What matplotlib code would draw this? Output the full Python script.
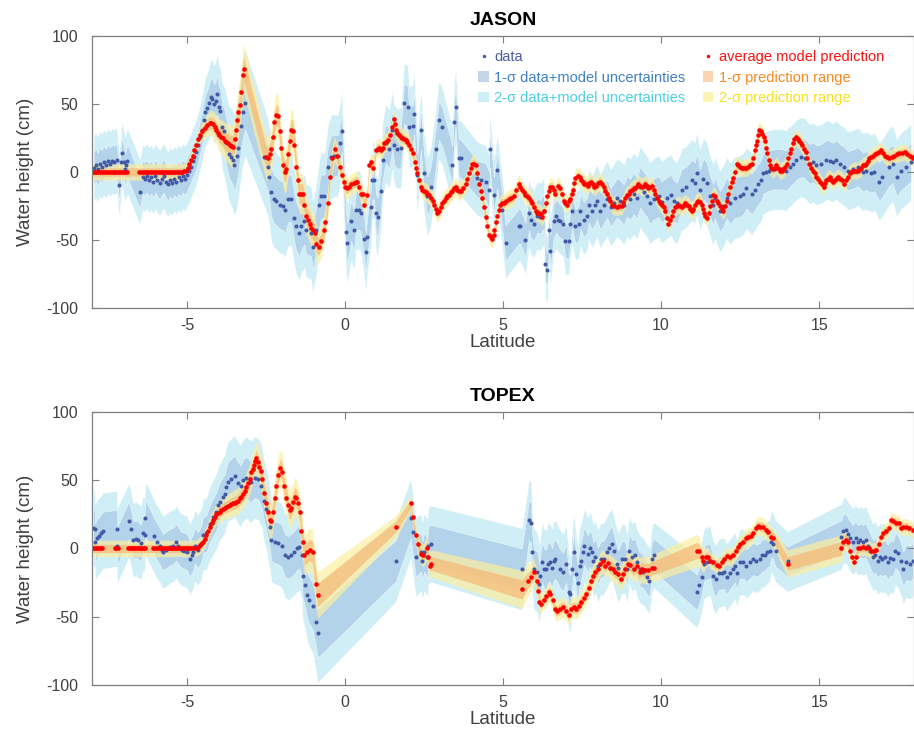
import numpy as np
import matplotlib
matplotlib.use("Agg")
import matplotlib.pyplot as plt
from matplotlib.lines import Line2D
from matplotlib.patches import Patch

plt.rcParams['font.family'] = ['Liberation Sans', 'DejaVu Sans']
plt.rcParams['axes.unicode_minus'] = False

# ---------------- JASON (top panel) ----------------
jason_data_lat = [-7.95, -7.88, -7.82, -7.76, -7.7, -7.63, -7.56, -7.5, -7.43, -7.36, -7.3, -7.22, -7.14, -7.08,
                  -7.05, -7.0, -6.95, -6.92, -6.88, -6.49, -6.4, -6.33, -6.27, -6.2, -6.13, -6.06, -6.0, -5.93,
                  -5.86, -5.8, -5.73, -5.66, -5.6, -5.53, -5.46, -5.4, -5.33, -5.26, -5.2, -5.13, -5.06, -5.0,
                  -4.94, -4.88, -4.82, -4.76, -4.7, -4.64, -4.58, -4.53, -4.47, -4.42, -4.36, -4.3, -4.25, -4.2,
                  -4.14, -4.08, -4.04, -3.99, -3.94, -3.88, -3.82, -3.74, -3.66, -3.6, -3.55, -3.5, -3.42, -3.38,
                  -3.3, -3.24, -3.16, -2.55, -2.44, -2.39, -2.33, -2.25, -2.18, -2.07, -1.96, -1.91, -1.8, -1.7,
                  -1.6, -1.54, -1.44, -1.39, -1.28, -1.23, -1.07, -1.02, -0.91, -0.81, -0.76, -0.65, -0.53, -0.44,
                  -0.36, -0.23, -0.15, -0.1, 0.03, 0.08, 0.19, 0.29, 0.35, 0.45, 0.5, 0.61, 0.66, 0.7, 0.82, 0.87,
                  0.92, 0.98, 1.03, 1.14, 1.19, 1.29, 1.4, 1.5, 1.56, 1.66, 1.77, 1.87, 1.98, 2.03, 2.14, 2.19,
                  2.29, 2.4, 2.5, 2.61, 2.71, 2.87, 2.97, 3.08, 3.4, 3.45, 3.5, 3.6, 3.66, 4.18, 4.29, 4.45, 4.55,
                  4.58, 4.71, 4.82, 4.97, 5.08, 5.5, 5.55, 5.71, 5.82, 5.87, 5.97, 6.08, 6.18, 6.29, 6.34, 6.4,
                  6.45, 6.5, 6.6, 6.69, 6.75, 6.8, 6.9, 6.97, 7.08, 7.13, 7.18, 7.29, 7.39, 7.45, 7.55, 7.66, 7.71,
                  7.82, 7.92, 7.97, 8.08, 8.18, 8.29, 8.4, 8.5, 8.6, 8.71, 8.82, 8.92, 9.02, 9.13, 9.24, 9.34,
                  9.45, 9.55, 9.65, 9.76, 9.92, 10.02, 10.18, 10.3, 10.4, 10.5, 10.65, 10.8, 10.97, 11.07, 11.13,
                  11.23, 11.34, 11.44, 11.55, 11.65, 11.7, 11.86, 11.97, 12.07, 12.18, 12.33, 12.49, 12.6, 12.7,
                  12.86, 12.97, 13.07, 13.17, 13.23, 13.33, 13.4, 13.6, 13.8, 13.95, 14.07, 14.17, 14.28, 14.44,
                  14.54, 14.7, 14.8, 14.91, 15.07, 15.23, 15.33, 15.44, 15.54, 15.65, 15.8, 15.9, 16.07, 16.22,
                  16.38, 16.49, 16.64, 16.75, 16.9, 17.0, 17.22, 17.33, 17.45, 17.6, 17.75, 17.9]
jason_data_h = [3, 5, 2, 6, 4, 7, 5, 8, 6, 8, 7, 9, -9.5, 7,
                13.7, 7, 2, 5, 8, -14.5, -4, -5, -3, -6, -4, -7, -3, -6,
                -8, -5, -3, -7, -9, -6, -8, -5, -7, -4, -6, -3, -5, -2,
                1, 4, 8, 11, 15, 20, 26, 31, 38, 44, 47, 51, 55, 54,
                50, 52, 57, 48, 45, 33, 30, 21, 13, 11, 9, 5, 12, 18,
                34, 44, 51, 11, 4, -3.4, -15, -20, -21, -24, -25, -28, -19.5, -19.5,
                -34, -40, -45, -40, -36, -43, -45, -55, -43, -24, -18, -18, 4, 11,
                12, 12, 21, 30, -44, -52, -36, -43, -28, -28, -30, -49, -59, -48, -26, -6,
                -6, -30.5, -33, -14, 9, 21, 17, 31, 20, 17, 18, 50.5, 48, 33, 34, 43,
                -2, 31, -1, -18, -11, 17, 38, 33, 5, 37, 48, 10, 10, -4.7, -6, -7, -13,
                17, -17, 1.4, -28, -52, -40, -40, -50, -30, -35, -38, -32, -33, -29, -68, -72,
                -43, -58, -36, -32, -35, -36, -38, -51, -51, -38, -29, -40, -38, -29, -35, -32, -24,
                -29, -24, -21, -29, -24, -19.5, -26, -23, -19, -21, -24, -18, -20, -16, -19, -11,
                -15, -18, -23, -20, -18, -22, -19, -17, -21, -23, -13, -11, -6, -8, -1,
                -13, -5, -8, -18, -24, -19, -29, -25, -19, -23, -19, -18, -16, -12,
                -16, -13, -9, -6, -1, 0, 1, 2, 2, 1, 4, 6, 9, 11,
                10, 6, 7, 5, 6, 9, 8, 7, 9, 6, 4, 1, 2, 4,
                0, 1, -1, 0, -7, -4, 4, 6, -4, 1, 4, 7]

jason_model_lat = [-7.98, -7.92, -7.86, -7.8, -7.74, -7.68, -7.62, -7.56, -7.5, -7.44, -7.38, -7.32, -7.26, -7.2,
                   -7.14, -7.08, -7.02, -6.96, -6.9, -6.52, -6.46, -6.4, -6.34, -6.28, -6.22, -6.16, -6.1, -6.04,
                   -5.98, -5.92, -5.86, -5.8, -5.74, -5.68, -5.62, -5.56, -5.5, -5.44, -5.38, -5.32, -5.26, -5.2,
                   -5.14, -5.08, -5.02, -4.97, -4.92, -4.87, -4.81, -4.76, -4.7, -4.65, -4.6, -4.52, -4.44, -4.36,
                   -4.28, -4.23, -4.18, -4.12, -4.07, -4.02, -3.97, -3.92, -3.86, -3.81, -3.76, -3.7, -3.65, -3.6,
                   -3.55, -3.49, -3.45, -3.41, -3.37, -3.33, -3.28, -3.23, -3.2, -2.5, -2.44, -2.38, -2.33, -2.28,
                   -2.23, -2.17, -2.12, -2.07, -2.02, -1.96, -1.91, -1.86, -1.8, -1.75, -1.7, -1.65, -1.6, -1.54,
                   -1.49, -1.44, -1.38, -1.33, -1.28, -1.23, -1.17, -1.12, -1.07, -1.02, -0.96, -0.9, -0.83, -0.75,
                   -0.67, -0.62, -0.54, -0.48, -0.4, -0.33, -0.25, -0.17, -0.09, -0.04, 0.01, 0.06, 0.12, 0.2,
                   0.28, 0.34, 0.39, 0.45, 0.5, 0.56, 0.61, 0.7, 0.77, 0.82, 0.9, 0.98, 1.03, 1.08, 1.14, 1.19,
                   1.24, 1.3, 1.35, 1.43, 1.5, 1.54, 1.58, 1.61, 1.66, 1.71, 1.76, 1.82, 1.87, 1.92, 1.97, 2.03,
                   2.09, 2.14, 2.21, 2.25, 2.29, 2.35, 2.4, 2.45, 2.5, 2.55, 2.61, 2.66, 2.71, 2.77, 2.82, 2.87,
                   2.92, 2.97, 3.03, 3.08, 3.13, 3.19, 3.24, 3.29, 3.35, 3.4, 3.45, 3.5, 3.56, 3.61, 3.66, 3.72,
                   3.82, 3.87, 3.92, 3.98, 4.03, 4.08, 4.13, 4.19, 4.24, 4.29, 4.34, 4.4, 4.45, 4.5, 4.55, 4.61,
                   4.66, 4.7, 4.73, 4.78, 4.82, 4.86, 4.9, 4.97, 5.03, 5.1, 5.18, 5.26, 5.34, 5.42, 5.5, 5.55,
                   5.6, 5.66, 5.71, 5.76, 5.82, 5.87, 5.92, 5.97, 6.03, 6.08, 6.13, 6.19, 6.24, 6.31, 6.36, 6.4,
                   6.44, 6.48, 6.55, 6.6, 6.66, 6.73, 6.8, 6.86, 6.92, 6.97, 7.02, 7.08, 7.13, 7.18, 7.21, 7.26,
                   7.29, 7.36, 7.42, 7.47, 7.52, 7.57, 7.63, 7.68, 7.73, 7.78, 7.84, 7.89, 7.94, 8.0, 8.08, 8.13,
                   8.18, 8.24, 8.29, 8.34, 8.39, 8.45, 8.52, 8.6, 8.68, 8.76, 8.81, 8.86, 8.92, 8.97, 9.03, 9.08,
                   9.13, 9.18, 9.23, 9.28, 9.34, 9.39, 9.45, 9.5, 9.55, 9.6, 9.66, 9.71, 9.76, 9.81, 9.87, 9.92,
                   9.97, 10.02, 10.08, 10.13, 10.18, 10.23, 10.28, 10.34, 10.39, 10.44, 10.5, 10.55, 10.6, 10.65,
                   10.71, 10.76, 10.81, 10.87, 10.92, 10.97, 11.02, 11.07, 11.13, 11.18, 11.23, 11.28, 11.32,
                   11.36, 11.4, 11.44, 11.5, 11.55, 11.6, 11.65, 11.7, 11.76, 11.81, 11.86, 11.92, 11.97, 12.02,
                   12.07, 12.12, 12.18, 12.23, 12.28, 12.34, 12.39, 12.44, 12.49, 12.55, 12.6, 12.65, 12.7, 12.75,
                   12.81, 12.86, 12.92, 12.97, 13.01, 13.04, 13.07, 13.1, 13.15, 13.2, 13.24, 13.28, 13.32, 13.35,
                   13.4, 13.44, 13.49, 13.54, 13.6, 13.65, 13.7, 13.76, 13.81, 13.87, 13.93, 13.99, 14.03, 14.07,
                   14.12, 14.17, 14.22, 14.26, 14.32, 14.37, 14.42, 14.47, 14.53, 14.58, 14.63, 14.68, 14.74,
                   14.81, 14.86, 14.91, 14.96, 15.02, 15.08, 15.15, 15.19, 15.23, 15.28, 15.33, 15.39, 15.44,
                   15.5, 15.56, 15.61, 15.66, 15.72, 15.8, 15.85, 15.9, 15.96, 16.01, 16.06, 16.12, 16.17, 16.22,
                   16.28, 16.33, 16.38, 16.44, 16.49, 16.54, 16.59, 16.65, 16.7, 16.76, 16.82, 16.89, 16.96,
                   17.01, 17.07, 17.14, 17.22, 17.3, 17.38, 17.46, 17.54, 17.62, 17.7, 17.78, 17.86, 17.93, 17.98]
jason_model_h = [0, 0, 0, 0, 0, 0, 0, 0, 0, 0, 0, 0, 0, 0,
                 0, 0, 0, 0, 0, 0, 0, 0, 0, 0, 0, 0, 0, 0,
                 0, 0, 0, 0, 0, 0, 0, 0, 0, 0, 0, 0, 0, 0,
                 0.2, 0.5, 1, 3, 6, 9, 12, 16, 20, 24, 27, 30, 32, 34.5,
                 36, 36, 35, 33, 31, 29, 27, 26, 25, 23, 22, 21, 20, 19,
                 18.5, 24, 31, 38, 44, 49, 59, 71, 76, 11, 10, 13, 17, 26,
                 37, 42, 41, 30, 18, 5, 0, 2, 13, 23, 31, 30, 20, 4,
                 -6, -16, -16, -16, -24, -32, -35, -38, -41, -43, -45, -53, -55, -51,
                 -43, -37, -23, -4, 10, 17, 12, 4, -2, -7, -11, -12, -11, -9,
                 -8, -7, -7, -11, -16, -16, -24, -17, 5, 7, 3, 16, 17, 18, 16, 18,
                 21, 22, 23.5, 27, 33, 39, 35, 31, 29, 27, 26, 25, 24, 23.5, 22, 20,
                 17, 14, 7.5, 3, -1, -6, -11, -13, -14, -15, -16, -17, -19, -21, -24, -27,
                 -30, -29, -26, -23, -21, -19, -18, -17, -15, -14, -12, -11, -13, -14, -14, -12,
                 -8.5, -5, -1, 3, 6, 6, 5, -1, -8.5, -14, -19, -26, -33, -40, -46, -48,
                 -49, -46, -43, -37, -32, -28, -24, -23, -23, -21, -20, -19, -18, -13, -8.5, -11,
                 -13, -15, -17, -18, -19, -21, -23, -26, -29, -30, -30, -31, -33, -29, -23, -18,
                 -14, -11, -11, -13, -16, -10, -12, -16, -21, -23, -24, -21, -20, -16, -13, -8,
                 -4.5, -3, -4, -6, -7, -8.5, -9, -10, -8, -7, -9, -11, -10, -8, -7, -9,
                 -11, -14, -16, -19, -21, -24, -25, -25.5, -25, -25, -22, -19, -17, -16, -14, -13,
                 -12, -12, -10, -8.5, -10, -11, -10, -8.5, -10, -12, -11, -10, -13, -16, -19, -21,
                 -23, -24, -26, -29, -34, -38, -35, -32, -29, -26, -25, -24, -25, -26,
                 -24, -23, -24, -25, -27, -29, -27, -24, -22, -21, -22, -24, -27,
                 -30, -32, -34, -30, -25, -21, -17, -18, -21, -23, -25, -27, -29, -25,
                 -21, -16, -11, -7, -4.5, 0, 6, 5, 3.4, 3, 3, 3, 3, 4,
                 5, 6, 10, 16, 20, 23, 27, 31, 30, 28, 26, 23, 18, 13.7,
                 9, 5, 3, 2, 3, 5, 3, 1, 1, 2, 4, 6, 10, 13.7,
                 17, 21, 24, 26, 24, 23, 21, 20, 17, 15, 10, 6, 3,
                 1, -1, -3.4, -5, -7, -9, -11, -8, -6, -5, -4, -6, -7,
                 -6, -4.5, -4, -5, -6, -8.5, -6, -3.4, -1, 0, 1, 1, 1, 1,
                 2, 3, 5, 5, 6, 8, 10, 11, 12, 13, 13.7, 15, 16,
                 14, 12, 11, 10, 11, 12, 13, 13.7, 14, 15, 13, 12, 11, 10]

# 1-sigma half widths read at a few latitudes (2-sigma = twice these)
jason_dsig_lat = [-8, -4.5, -3.3, -2.5, -1.0, -0.3, 1.0, 2.0, 3.5, 5.0, 7.0, 9.0, 12.5, 18]
jason_dsig = [12, 12, 20, 18, 17, 15, 14, 15, 14, 13, 12, 15, 15, 14]
jason_psig_lat = [-8, -4.6, -3.3, -2.5, -1.7, -0.9, -0.3, 0.5, 18]
jason_psig = [3, 3, 9, 8, 8, 6.5, 4.5, 3.5, 3]

# ---------------- TOPEX (bottom panel) ----------------
topex_data_lat = [-7.96, -7.92, -7.9, -7.83, -7.78, -7.72, -7.66, -7.22, -7.2, -6.84, -6.77, -6.7, -6.62, -6.54,
                  -6.46, -6.39, -6.34, -6.31, -6.04, -5.95, -5.86, -5.8, -5.75, -5.65, -5.54, -5.43, -5.33,
                  -5.27, -5.17, -5.08, -5.0, -4.9, -4.85, -4.8, -4.75, -4.65, -4.55, -4.49, -4.38, -4.28, -4.17,
                  -4.07, -4.0, -3.96, -3.86, -3.8, -3.75, -3.7, -3.59, -3.49, -3.38, -3.3, -3.22, -3.12, -2.98,
                  -2.85, -2.75, -2.64, -2.56, -2.49, -2.38, -2.33, -2.22, -2.12, -2.0, -1.9, -1.8, -1.7, -1.6,
                  -1.51, -1.44, -1.37, -1.34, -1.26, -1.2, -1.13, -1.02, -0.92, -0.86,
                  1.61, 2.08, 2.14, 2.24, 2.4, 2.45, 2.5, 2.61, 2.64, 2.71,
                  5.6, 5.82, 5.89, 5.92, 5.97, 6.08, 6.15, 6.18, 6.24, 6.31, 6.37, 6.41, 6.48, 6.55, 6.6, 6.66,
                  6.81, 6.9, 7.0, 7.08, 7.13, 7.18, 7.24, 7.32, 7.36, 7.42, 7.47, 7.53, 7.57, 7.68, 7.74, 7.8,
                  7.86, 7.92, 8.0, 8.1, 8.18, 8.29, 8.34, 8.44, 8.5, 8.6, 8.65, 8.76, 8.86, 8.92, 9.0, 9.08,
                  9.18, 9.23, 9.32, 9.44, 9.55, 9.63, 9.71, 9.78,
                  11.13, 11.21, 11.28, 11.36, 11.44, 11.55, 11.65, 11.73, 11.84, 11.92, 11.99, 12.07, 12.18,
                  12.26, 12.33, 12.4, 12.49, 12.6, 12.7, 12.81, 12.91, 13.01, 13.12, 13.2, 13.28, 13.35, 13.43,
                  13.49, 13.54, 13.62, 14.0,
                  15.7, 15.75, 15.84, 15.91, 15.98, 16.07, 16.15, 16.22, 16.3, 16.38, 16.47, 16.54, 16.61,
                  16.7, 16.78, 16.85, 16.93, 17.0, 17.08, 17.17, 17.25, 17.33, 17.41, 17.49, 17.59, 17.66,
                  17.75, 17.87, 17.96]
topex_data_h = [15, 14.5, 4.6, 8, 9, 11, 13, 14.5, 2, 20.5, 14.5, 6, 7, 6,
                4, 11, 10, 22, 9, 5, 2, -1, -2.7, -1, 1, 2, 4.6,
                2, -1, -1.5, -2.7, -7.6, -5, -2.7, 2, -1, 3, 10, 11, 18, 23,
                27, 32, 34, 38, 40, 45, 49, 51, 53, 48, 46, 50, 52, 49,
                52, 51, 46, 35, 29, 16, 6, 4.6, 4, 2, -5, -6.4, -5, -2.7,
                0, 1, -5, -20, -27, -34, -38, -42, -54, -62,
                -9, 22, 12, -6.4, -2.7, -9, -2.7, -6.4, 2, 3.4,
                -15, 20.6, 19, -2.7, -15, -17, -26, -20, -10, -15, -15, -11, -10, -14, -9, -8,
                -15, -17, -11, -32, -33, -15, -2.7, -18.5, -25, -12.5, -9, -2.7, 2, -4, 0, -2.7,
                -9, -6.4, -12.5, -7.6, -7.6, -2.7, 0, 3.4, -2, -11, -14, -7.6, -7.6, -15, -1.5, -6.4,
                -5, -10, -15, -17, -21, -23.5, -7.6, -5,
                -32, -27, -21, -11, -10, -9, -20, -22.5, -17.6, -17.6, -17, -21, -17.6,
                -15, -12.5, -17.6, -10, -10, -12.5, -10, -7.6, -9, -7.6, -5, -5, -2.7, -1.5,
                5, 3.4, -2, -9.5,
                8.6, 12.5, 13.7, 10.5, 7.6, 5, 7.6, 5, 6, 5, 6, 2, -1.5,
                -6.4, -5, -9, -6.4, -7.6, -6.4, -10, -7, -7.6, -1.5, -3, -9, -15,
                -10, -11, -9]

topex_model_lat = [-7.98, -7.93, -7.88, -7.83, -7.78, -7.73, -7.68, -7.28, -7.23, -7.18, -6.86, -6.81, -6.76,
                   -6.71, -6.66, -6.61, -6.56, -6.51, -6.46, -6.41, -6.36, -6.31, -6.06, -6.0, -5.94, -5.88,
                   -5.82, -5.76, -5.7, -5.64, -5.58, -5.52, -5.46, -5.4, -5.34, -5.28, -5.22, -5.16, -5.1, -5.04,
                   -4.98, -4.92, -4.86, -4.8, -4.74, -4.68, -4.62, -4.55, -4.49, -4.44, -4.38, -4.33, -4.28, -4.22,
                   -4.17, -4.12, -4.07, -4.01, -3.96, -3.91, -3.86, -3.81, -3.75, -3.7, -3.65, -3.59, -3.54, -3.49,
                   -3.44, -3.38, -3.33, -3.28, -3.22, -3.17, -3.12, -3.06, -3.01, -2.96, -2.92, -2.88, -2.84, -2.8,
                   -2.75, -2.71, -2.67, -2.61, -2.56, -2.49, -2.43, -2.38, -2.33, -2.28, -2.22, -2.17, -2.12,
                   -2.04, -1.99, -1.93, -1.85, -1.8, -1.75, -1.7, -1.64, -1.59, -1.54, -1.49, -1.43, -1.38, -1.33,
                   -1.28, -1.2, -1.12, -1.02, -0.92, -0.86,
                   1.61, 2.08, 2.14, 2.24, 2.3, 2.4, 2.48, 2.59, 2.63, 2.69, 2.73,
                   5.6, 5.78, 5.87, 5.97, 6.06, 6.11, 6.15, 6.2, 6.29, 6.37, 6.45, 6.5, 6.57, 6.63, 6.71, 6.81,
                   6.9, 7.0, 7.08, 7.15, 7.24, 7.32, 7.39, 7.47, 7.55, 7.63, 7.71, 7.78, 7.86, 7.92, 8.0, 8.08,
                   8.16, 8.24, 8.31, 8.39, 8.47, 8.55, 8.65, 8.73, 8.79, 8.86, 8.94, 9.02, 9.13, 9.23, 9.32, 9.39,
                   9.5, 9.6, 9.71, 9.78,
                   11.13, 11.2, 11.28, 11.34, 11.42, 11.49, 11.55, 11.65, 11.76, 11.84, 11.92, 11.99, 12.07,
                   12.18, 12.28, 12.37, 12.44, 12.51, 12.6, 12.68, 12.76, 12.83, 12.91, 12.99, 13.07, 13.14,
                   13.22, 13.31, 13.38, 13.49, 13.55, 14.0,
                   15.7, 15.75, 15.84, 15.91, 15.96, 16.03, 16.09, 16.15, 16.22, 16.3, 16.38, 16.47, 16.57,
                   16.64, 16.72, 16.8, 16.88, 16.96, 17.03, 17.12, 17.2, 17.27, 17.35, 17.43, 17.51, 17.59,
                   17.66, 17.75, 17.85, 17.96]
topex_model_h = [0, 0, 0, 0, 0, 0, 0, 0, 0, 0, 0, 0, 0,
                 0, 0, 0, 0, 0, 0, 0, 0, 0, 0, 0, 0, 0,
                 0, 0, 0, 0, 0, 0, 0, 0, 0, 0, 0, 0, 0, 0,
                 0, 0, 0, 0, 0.2, 0.5, 1.5, 3, 4.6, 7, 10, 13, 16, 19,
                 21, 23, 25, 26, 27, 28, 29, 30, 30.5, 31, 32, 32.5, 33, 33.5,
                 34, 35, 37, 38, 40, 42, 45, 48, 51, 56, 58, 61, 64, 66,
                 63, 60, 57, 51, 41, 33, 27, 21, 20, 27, 37, 46, 54,
                 59, 56, 46, 37, 32, 28, 30, 34, 38, 37, 33, 27, 13, 5,
                 -5, -2.7, -1, -2.7, -26, -34,
                 16, 33, 23, 10, 3, -4, -5, 0.5, -6.4, -12.5, -11,
                 -30, -23.5, -21, -17, -23.5, -31, -39, -40.6, -38, -35, -32, -33, -38, -44, -46, -44,
                 -43, -45.5, -49, -44, -43, -44, -42, -39, -36.5, -33, -29, -23.5, -20, -17, -15, -11,
                 -9.5, -12.5, -10.5, -14, -15, -17, -18.5, -22, -18.5, -15, -11, -12, -15, -12.5, -17, -15,
                 -16, -16, -14, -14,
                 -1.5, -2, -6.4, -9, -6.4, -6, -9, -10, -12, -13, -10, -7.6, -5.5,
                 -6.4, -4.5, -1.5, 1, 3.4, 5, 7.6, 8.6, 9, 11.5, 14.9, 16.7, 16,
                 16, 13.4, 12, 8.6, 8, -11,
                 0, 5, 6.4, 4.6, -1.5, -6.4, -10, -6.4, 0, 0.5, 1, 0.5, 0,
                 -2, -2, -1, 3.4, 8.6, 11.5, 13, 15, 21, 20, 18.5, 19, 15,
                 16, 16, 15, 13.7]

topex_dsig_lat = [-8, -4.5, -3.5, -2.5, -1.3, -0.86, 1.61, 2.7, 5.6, 9.78, 11.13, 14.0, 15.7, 18]
topex_dsig = [14, 13, 15, 15, 16, 18, 15, 14, 15, 12, 13, 11, 12, 13]
topex_psig_lat = [-8, -4.6, -3.3, -2.5, -1.5, -0.86, 1.61, 2.1, 2.73, 5.6, 6.2, 9.78, 11.13, 11.5, 13.55, 14.0, 15.7, 16.0, 18]
topex_psig = [3, 3, 5, 6.5, 7, 8.5, 4, 3, 5, 7, 3.5, 5, 6, 3, 3.5, 5, 5, 3, 3]

# colours
c_data = '#4159a6'
c_model = '#ff0000'
c_d1 = '#b0d0ea'
c_d2 = '#cdeef6'
c_p1 = '#f7b46e'
c_p2 = '#fdeea0'

panels = [
    ('JASON', jason_data_lat, jason_data_h, jason_model_lat, jason_model_h,
     jason_dsig_lat, jason_dsig, jason_psig_lat, jason_psig),
    ('TOPEX', topex_data_lat, topex_data_h, topex_model_lat, topex_model_h,
     topex_dsig_lat, topex_dsig, topex_psig_lat, topex_psig),
]

fig = plt.figure(figsize=(9.14, 7.35), dpi=100)
ax_top = fig.add_axes([0.1007, 0.581, 0.8993, 0.370])
ax_bot = fig.add_axes([0.1007, 0.068, 0.8993, 0.3715])

for ax, (name, dlat, dh, mlat, mh, dsl, ds, psl, ps) in zip([ax_top, ax_bot], panels):
    dlat = np.array(dlat)
    dh = np.array(dh)
    mlat = np.array(mlat)
    mh = np.array(mh)
    dsig = np.interp(dlat, dsl, ds)
    psig = np.interp(mlat, psl, ps)

    ax.fill_between(dlat, dh - 2 * dsig, dh + 2 * dsig, color=c_d2, lw=0.3, ec='white', alpha=0.95)
    ax.fill_between(dlat, dh - dsig, dh + dsig, color=c_d1, lw=0.3, ec='white', alpha=0.9)
    ax.fill_between(mlat, mh - 2 * psig, mh + 2 * psig, color=c_p2, lw=0, alpha=0.7)
    ax.fill_between(mlat, mh - psig, mh + psig, color=c_p1, lw=0, alpha=0.65)

    ax.plot(dlat, dh, ls='none', marker='o', ms=2.9, color=c_data, mew=0)
    ax.plot(mlat, mh, ls='none', marker='o', ms=3.3, color=c_model, mew=0)

    ax.set_xlim(-8, 18)
    ax.set_ylim(-100, 100)
    ax.set_xticks([-5, 0, 5, 10, 15])
    ax.set_yticks([-100, -50, 0, 50, 100])
    ax.tick_params(direction='in', length=5, width=0.8, colors='#7f7f7f', labelcolor='#404040',
                   labelsize=11.5, top=True, right=True, pad=7)
    ax.tick_params(axis='y', pad=10)
    for sp in ax.spines.values():
        sp.set_color('#7f7f7f')
        sp.set_linewidth(0.9)
    ax.set_xlabel('Latitude', fontsize=13.5, color='#404040', labelpad=1)
    ax.set_ylabel('Water height (cm)', fontsize=13.5, color='#404040', labelpad=9)
    ax.set_title(name, fontsize=14, fontweight='bold', pad=8)

handles = [
    Line2D([], [], ls='none', marker='o', ms=2.5, color=c_data, mew=0),
    Patch(fc='#c6d6ea', ec='none'),
    Patch(fc='#cdeff6', ec='none'),
    Line2D([], [], ls='none', marker='o', ms=2.5, color=c_model, mew=0),
    Patch(fc='#fbd5b3', ec='none'),
    Patch(fc='#fdf4b4', ec='none'),
]
labels = ['data', '1-σ data+model uncertainties', '2-σ data+model uncertainties',
          'average model prediction', '1-σ prediction range', '2-σ prediction range']
ax_top.legend(handles, labels, ncol=2, loc='upper left', bbox_to_anchor=(0.463, 0.97), frameon=False,
              fontsize=10.5, handlelength=0.7, handleheight=0.7, handletextpad=0.4, columnspacing=1.2,
              labelspacing=0.45, borderaxespad=0,
              labelcolor=['#4b5aa8', '#3f80c2', '#4ccfe6', '#ff1010', '#f7891f', '#f5e11c'])

fig.savefig('out.png', dpi=100)
